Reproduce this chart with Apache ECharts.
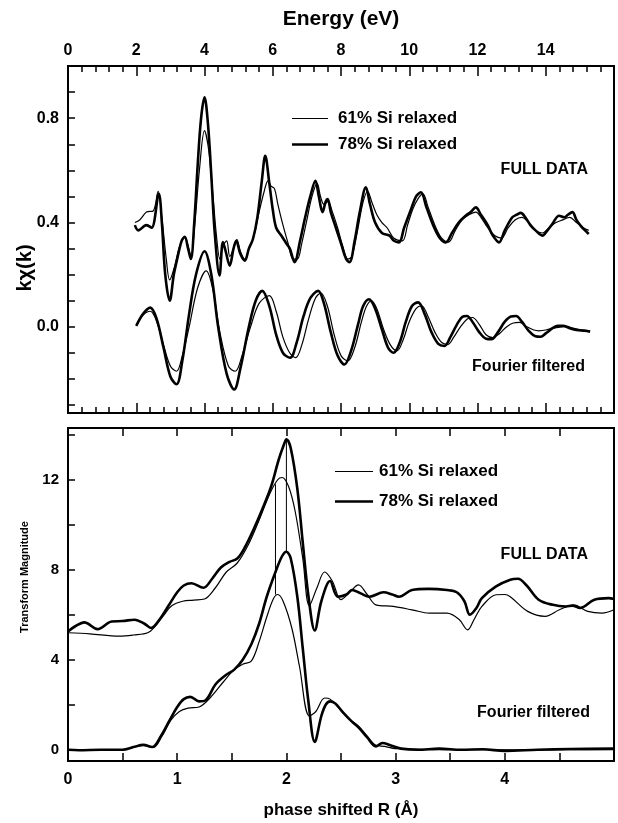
<!DOCTYPE html>
<html>
<head>
<meta charset="utf-8">
<script src="https://cdn.jsdelivr.net/npm/echarts@6/dist/echarts.min.js"></script>
<style>
html,body{margin:0;padding:0;background:#fff;}
#chart{width:618px;height:823px;}
</style>
</head>
<body>
<div id="chart"></div>
<script>
// ---------- DATA ----------
var seriesNames = ['61% Si relaxed', '78% Si relaxed'];

// Top panel: k-space data  [energy, kchi]
var full61 = [[1.96,0.40],[2.1,0.41],[2.3,0.44],[2.5,0.445],[2.64,0.52],[2.75,0.42],[2.88,0.26],[2.98,0.18],[3.13,0.235],[3.25,0.30],[3.42,0.345],[3.52,0.31],[3.6,0.27],[3.72,0.40],[3.85,0.60],[4.0,0.752],[4.12,0.68],[4.25,0.50],[4.35,0.35],[4.45,0.26],[4.54,0.31],[4.65,0.33],[4.74,0.27],[4.85,0.30],[4.95,0.335],[5.05,0.29],[5.18,0.26],[5.3,0.30],[5.45,0.35],[5.6,0.44],[5.75,0.52],[5.86,0.56],[5.95,0.54],[6.05,0.53],[6.15,0.47],[6.3,0.39],[6.45,0.32],[6.6,0.26],[6.72,0.26],[6.85,0.32],[7.0,0.41],[7.15,0.50],[7.3,0.55],[7.4,0.50],[7.5,0.47],[7.62,0.48],[7.75,0.44],[7.9,0.38],[8.05,0.31],[8.2,0.26],[8.32,0.27],[8.5,0.38],[8.65,0.48],[8.78,0.52],[8.9,0.48],[9.05,0.43],[9.2,0.40],[9.35,0.38],[9.55,0.34],[9.8,0.33],[9.95,0.39],[10.1,0.45],[10.25,0.49],[10.4,0.51],[10.55,0.46],[10.75,0.39],[10.95,0.34],[11.15,0.325],[11.35,0.37],[11.55,0.41],[11.75,0.43],[11.95,0.44],[12.1,0.42],[12.3,0.38],[12.5,0.35],[12.7,0.34],[12.9,0.38],[13.1,0.41],[13.3,0.42],[13.5,0.40],[13.7,0.37],[13.9,0.36],[14.1,0.38],[14.3,0.40],[14.5,0.41],[14.7,0.42],[14.9,0.40],[15.1,0.38],[15.26,0.37]];
var full78 = [[1.96,0.39],[2.06,0.37],[2.3,0.39],[2.45,0.38],[2.66,0.51],[2.75,0.40],[2.85,0.20],[2.98,0.10],[3.1,0.20],[3.2,0.26],[3.33,0.33],[3.42,0.345],[3.52,0.30],[3.6,0.26],[3.7,0.40],[3.8,0.62],[3.9,0.80],[4.0,0.88],[4.1,0.78],[4.2,0.58],[4.3,0.36],[4.44,0.197],[4.54,0.325],[4.62,0.29],[4.74,0.235],[4.85,0.30],[4.93,0.33],[5.05,0.28],[5.18,0.254],[5.3,0.30],[5.42,0.337],[5.55,0.42],[5.68,0.56],[5.78,0.656],[5.9,0.55],[6.0,0.45],[6.1,0.38],[6.25,0.35],[6.4,0.32],[6.5,0.30],[6.64,0.248],[6.8,0.33],[6.95,0.42],[7.1,0.50],[7.25,0.56],[7.35,0.50],[7.46,0.44],[7.55,0.48],[7.61,0.49],[7.7,0.44],[7.85,0.38],[8.0,0.32],[8.15,0.26],[8.25,0.248],[8.4,0.33],[8.55,0.44],[8.73,0.535],[8.85,0.47],[9.0,0.40],[9.2,0.36],[9.42,0.35],[9.55,0.33],[9.7,0.324],[9.85,0.38],[10.05,0.45],[10.2,0.50],[10.34,0.516],[10.5,0.46],[10.7,0.39],[10.9,0.34],[11.07,0.324],[11.25,0.36],[11.45,0.40],[11.66,0.427],[11.8,0.44],[11.95,0.458],[12.1,0.43],[12.3,0.39],[12.45,0.35],[12.63,0.324],[12.8,0.37],[13.02,0.42],[13.15,0.43],[13.27,0.437],[13.4,0.42],[13.55,0.39],[13.7,0.37],[13.9,0.35],[14.05,0.37],[14.19,0.394],[14.39,0.426],[14.55,0.42],[14.65,0.43],[14.78,0.44],[14.9,0.41],[15.02,0.388],[15.15,0.37],[15.26,0.356]];
var filt61 = [[2.0,0.004],[2.2,0.045],[2.41,0.06],[2.6,0.02],[2.8,-0.07],[3.0,-0.15],[3.18,-0.17],[3.35,-0.11],[3.55,0.0],[3.8,0.15],[4.05,0.215],[4.25,0.14],[4.45,-0.02],[4.7,-0.15],[4.9,-0.17],[5.1,-0.11],[5.35,0.0],[5.6,0.09],[5.9,0.12],[6.1,0.06],[6.3,-0.04],[6.5,-0.10],[6.67,-0.118],[6.85,-0.07],[7.05,0.03],[7.25,0.11],[7.41,0.13],[7.6,0.08],[7.8,-0.03],[8.0,-0.11],[8.2,-0.13],[8.4,-0.08],[8.6,0.02],[8.75,0.08],[8.89,0.10],[9.05,0.07],[9.25,-0.01],[9.45,-0.07],[9.64,-0.092],[9.82,-0.05],[10.0,0.02],[10.2,0.07],[10.36,0.081],[10.55,0.04],[10.75,-0.02],[10.95,-0.06],[11.13,-0.067],[11.3,-0.04],[11.5,0.0],[11.7,0.03],[11.85,0.036],[12.05,0.01],[12.25,-0.03],[12.45,-0.041],[12.65,-0.025],[12.85,0.0],[13.05,0.015],[13.23,0.017],[13.45,0.0],[13.65,-0.012],[13.8,-0.015],[14.0,-0.012],[14.2,-0.005],[14.45,0.0],[14.6,0.003],[14.8,-0.005],[15.0,-0.01],[15.3,-0.015]];
var filt78 = [[2.0,0.004],[2.2,0.05],[2.41,0.074],[2.6,0.03],[2.8,-0.08],[3.0,-0.19],[3.18,-0.22],[3.35,-0.13],[3.55,0.05],[3.75,0.20],[4.0,0.29],[4.2,0.20],[4.4,0.0],[4.65,-0.18],[4.87,-0.24],[5.05,-0.16],[5.3,0.0],[5.5,0.10],[5.69,0.138],[5.9,0.08],[6.1,-0.03],[6.3,-0.10],[6.51,-0.118],[6.7,-0.06],[6.9,0.04],[7.1,0.11],[7.33,0.138],[7.5,0.09],[7.7,-0.02],[7.9,-0.11],[8.1,-0.144],[8.3,-0.09],[8.5,0.01],[8.65,0.08],[8.82,0.106],[9.0,0.07],[9.2,-0.01],[9.38,-0.08],[9.54,-0.099],[9.72,-0.06],[9.9,0.02],[10.08,0.08],[10.26,0.094],[10.45,0.05],[10.65,-0.02],[10.85,-0.065],[11.03,-0.073],[11.2,-0.04],[11.4,0.01],[11.55,0.038],[11.69,0.042],[11.85,0.02],[12.05,-0.02],[12.25,-0.045],[12.41,-0.047],[12.6,-0.02],[12.8,0.02],[12.98,0.04],[13.13,0.042],[13.3,0.02],[13.5,-0.015],[13.7,-0.036],[13.85,-0.038],[14.0,-0.025],[14.2,-0.005],[14.35,0.004],[14.5,0.004],[14.7,-0.005],[14.9,-0.012],[15.13,-0.015],[15.3,-0.018]];

// Bottom panel: R-space transform magnitude  [R, magnitude]
var ftFull61 = [[0,5.2],[0.2,5.15],[0.47,5.05],[0.6,5.1],[0.73,5.2],[0.8,5.5],[0.88,6.0],[0.95,6.4],[1.05,6.6],[1.15,6.65],[1.25,6.7],[1.35,7.2],[1.45,7.9],[1.55,8.3],[1.65,9.1],[1.75,10.2],[1.85,11.4],[1.92,12.0],[1.96,12.1],[2.02,11.7],[2.08,10.6],[2.15,8.5],[2.21,6.4],[2.28,7.2],[2.35,7.9],[2.42,7.5],[2.5,6.67],[2.58,7.0],[2.66,7.33],[2.74,6.9],[2.82,6.44],[2.98,6.37],[3.15,6.22],[3.31,6.07],[3.47,6.07],[3.58,5.8],[3.66,5.33],[3.72,5.8],[3.79,6.37],[3.92,6.89],[4.0,6.9],[4.05,6.8],[4.21,6.15],[4.37,5.93],[4.5,6.22],[4.63,6.44],[4.76,6.15],[4.89,6.07],[5.0,6.22]];
var ftFull78 = [[0,5.26],[0.07,5.5],[0.15,5.66],[0.27,5.36],[0.4,5.7],[0.5,5.72],[0.61,5.78],[0.7,5.6],[0.76,5.41],[0.84,5.8],[0.92,6.4],[1.0,7.0],[1.06,7.3],[1.13,7.4],[1.24,7.2],[1.32,7.6],[1.4,8.1],[1.48,8.35],[1.55,8.5],[1.62,9.0],[1.7,9.8],[1.78,10.7],[1.86,11.7],[1.93,12.9],[1.98,13.6],[2.0,13.8],[2.04,13.4],[2.1,11.6],[2.15,9.2],[2.2,6.9],[2.26,5.3],[2.32,6.6],[2.4,7.5],[2.47,6.8],[2.55,6.9],[2.6,7.1],[2.68,6.95],[2.76,6.8],[2.89,7.0],[2.97,6.9],[3.03,6.8],[3.15,7.1],[3.3,7.15],[3.47,7.1],[3.56,7.0],[3.63,6.6],[3.68,6.0],[3.74,6.3],[3.79,6.74],[3.92,7.26],[4.05,7.56],[4.12,7.6],[4.2,7.3],[4.31,6.67],[4.44,6.44],[4.56,6.37],[4.62,6.4],[4.69,6.3],[4.82,6.67],[4.95,6.74],[5.0,6.7]];
var ftFilt61 = [[0,0.0],[0.5,0.0],[0.6,0.1],[0.69,0.18],[0.78,0.1],[0.86,0.6],[0.94,1.3],[1.02,1.7],[1.1,1.85],[1.2,1.9],[1.3,2.3],[1.42,3.0],[1.52,3.55],[1.6,3.8],[1.68,3.95],[1.75,4.8],[1.82,5.9],[1.88,6.7],[1.92,6.9],[1.97,6.6],[2.05,5.4],[2.12,3.7],[2.21,1.5],[2.27,1.7],[2.35,2.3],[2.4,2.25],[2.48,1.85],[2.58,1.35],[2.66,1.05],[2.74,0.6],[2.82,0.2],[2.9,0.15],[3.0,0.05],[3.5,0.0],[5.0,0.0]];
var ftFilt78 = [[0,0.0],[0.1,-0.02],[0.3,0.0],[0.5,0.0],[0.6,0.12],[0.69,0.22],[0.77,0.12],[0.85,0.6],[0.93,1.3],[1.0,1.9],[1.06,2.25],[1.12,2.35],[1.2,2.15],[1.26,2.2],[1.35,2.9],[1.44,3.3],[1.52,3.55],[1.6,4.0],[1.68,4.7],[1.75,5.6],[1.82,6.8],[1.9,7.9],[1.96,8.6],[2.0,8.8],[2.04,8.5],[2.1,6.8],[2.15,4.5],[2.2,2.2],[2.26,0.35],[2.32,1.5],[2.36,2.0],[2.4,2.15],[2.45,2.05],[2.52,1.65],[2.6,1.25],[2.66,1.0],[2.74,0.55],[2.82,0.15],[2.88,0.3],[2.95,0.2],[3.05,0.05],[3.2,0.0],[3.4,0.05],[3.6,0.0],[3.8,0.02],[4.0,-0.05],[4.3,0.0],[4.6,0.03],[5.0,0.05]];

// vertical peak markers in R-space: [R, from, to]
var peakMarkers = [[1.9, 6.9, 11.8], [2.0, 8.8, 13.8]];

// tick values
var topYTicks = [-0.3,-0.2,-0.1,0,0.1,0.2,0.3,0.4,0.5,0.6,0.7,0.8,0.9];
var topYLabels = [0, 0.4, 0.8];
var botXTicks = [0,0.5,1,1.5,2,2.5,3,3.5,4,4.5,5];
var botXLabels = [0,1,2,3,4];
var botYTicks = [0,2,4,6,8,10,12,14];
var botYLabels = [0,4,8,12];

// ---------- CHART ----------
var FONT = '"Liberation Sans", Arial, Helvetica, sans-serif';
var chart = echarts.init(document.getElementById('chart'), null, {renderer:'canvas'});
var axisLineStyle = {show:true, onZero:false, lineStyle:{color:'#000', width:2}};
var lblStyle = {color:'#000', fontWeight:'bold', fontFamily:FONT};
var THIN = 1.2, THICK = 2.6;

function lineSeries(name, data, thick, xi, yi) {
  return {
    name: name, type:'line', data:data, xAxisIndex:xi, yAxisIndex:yi,
    symbol:'none', showSymbol:false, smooth:0.35, animation:false,
    lineStyle:{color:'#000', width: thick ? THICK : THIN},
    itemStyle:{color:'#000'}
  };
}

var series = [
  lineSeries(seriesNames[0], full61, false, 0, 0),
  lineSeries(seriesNames[1], full78, true, 0, 0),
  lineSeries(seriesNames[0], filt61, false, 0, 0),
  lineSeries(seriesNames[1], filt78, true, 0, 0),
  lineSeries(seriesNames[0], ftFull61, false, 2, 1),
  lineSeries(seriesNames[1], ftFull78, true, 2, 1),
  lineSeries(seriesNames[0], ftFilt61, false, 2, 1),
  lineSeries(seriesNames[1], ftFilt78, true, 2, 1)
];
peakMarkers.forEach(function(m){
  series.push({
    type:'line', xAxisIndex:2, yAxisIndex:1, symbol:'none', animation:false, smooth:false,
    data:[[m[0], m[1]], [m[0], m[2]]],
    lineStyle:{color:'#000', width:1}, silent:true
  });
});

function legendData(w) {
  return [
    {name:seriesNames[0], icon:'path://M0,0H' + w + 'V' + THIN + 'H0Z', itemStyle:{color:'#000', borderWidth:0}},
    {name:seriesNames[1], icon:'path://M0,0H' + w + 'V' + THICK + 'H0Z', itemStyle:{color:'#000', borderWidth:0}}
  ];
}

var option = {
  backgroundColor:'#fff',
  animation:false,
  grid:[
    {left:68, right:4, top:66, height:347, show:true, borderColor:'#000', borderWidth:2, backgroundColor:'transparent'},
    {left:68, right:4, top:428, height:333, show:true, borderColor:'#000', borderWidth:2, backgroundColor:'transparent'}
  ],
  xAxis:[
    {gridIndex:0, type:'value', position:'top', min:0, max:16, interval:2,
     name:'Energy (eV)', nameLocation:'middle', nameGap:36,
     nameTextStyle:{color:'#000', fontWeight:'bold', fontFamily:FONT, fontSize:21},
     axisLine:axisLineStyle,
     axisTick:{show:true, inside:true, length:10, lineStyle:{color:'#000', width:1.5}},
     minorTick:{show:true, splitNumber:5, length:6, lineStyle:{color:'#000', width:1.5}},
     axisLabel:Object.assign({fontSize:16, margin:7, showMaxLabel:false}, lblStyle),
     splitLine:{show:false}, minorSplitLine:{show:false}},
    {gridIndex:0, type:'value', position:'bottom', min:0, max:16, interval:2,
     axisLine:axisLineStyle,
     axisTick:{show:true, inside:true, length:10, lineStyle:{color:'#000', width:1.5}},
     minorTick:{show:true, splitNumber:5, length:6, lineStyle:{color:'#000', width:1.5}},
     axisLabel:{show:false}, splitLine:{show:false}},
    {gridIndex:1, type:'value', position:'bottom', min:0, max:5,
     name:'phase shifted R (Å)', nameLocation:'middle', nameGap:41,
     nameTextStyle:{color:'#000', fontWeight:'bold', fontFamily:FONT, fontSize:17},
     axisLine:axisLineStyle,
     axisTick:{show:true, inside:true, length:8, customValues:botXTicks, lineStyle:{color:'#000', width:1.5}},
     axisLabel:Object.assign({fontSize:16, margin:11, customValues:botXLabels}, lblStyle),
     splitLine:{show:false}},
    {gridIndex:1, type:'value', position:'top', min:0, max:5,
     axisLine:axisLineStyle,
     axisTick:{show:true, inside:true, length:8, customValues:botXTicks, lineStyle:{color:'#000', width:1.5}},
     axisLabel:{show:false}, splitLine:{show:false}}
  ],
  yAxis:[
    {gridIndex:0, type:'value', min:-0.33, max:1.0,
     axisLine:axisLineStyle,
     axisTick:{show:true, inside:true, length:7, customValues:topYTicks, lineStyle:{color:'#000', width:1.5}},
     axisLabel:Object.assign({fontSize:16, margin:9, customValues:topYLabels,
       formatter:function(v){return v.toFixed(1);}}, lblStyle),
     splitLine:{show:false}},
    {gridIndex:1, type:'value', min:-0.5, max:14.3,
     axisLine:axisLineStyle,
     axisTick:{show:true, inside:true, length:7, customValues:botYTicks, lineStyle:{color:'#000', width:1.5}},
     axisLabel:Object.assign({fontSize:15, margin:9, customValues:botYLabels}, lblStyle),
     splitLine:{show:false}}
  ],
  legend:[
    {data:legendData(36), orient:'vertical', left:287, top:105, itemWidth:36, itemHeight:14, itemGap:9,
     selectedMode:false, symbolKeepAspect:true,
     textStyle:{color:'#000', fontWeight:'bold', fontFamily:FONT, fontSize:17, padding:[0,0,0,5]}},
    {data:legendData(38), orient:'vertical', left:330, top:458, itemWidth:38, itemHeight:14, itemGap:13,
     selectedMode:false, symbolKeepAspect:true,
     textStyle:{color:'#000', fontWeight:'bold', fontFamily:FONT, fontSize:17, padding:[0,0,0,1]}}
  ],
  graphic:[
    {type:'text', x:588, y:170, style:{text:'FULL DATA', align:'right', verticalAlign:'middle', fill:'#000', font:'bold 16px ' + FONT}},
    {type:'text', x:585, y:367, style:{text:'Fourier filtered', align:'right', verticalAlign:'middle', fill:'#000', font:'bold 16px ' + FONT}},
    {type:'text', x:588, y:555, style:{text:'FULL DATA', align:'right', verticalAlign:'middle', fill:'#000', font:'bold 16px ' + FONT}},
    {type:'text', x:590, y:713, style:{text:'Fourier filtered', align:'right', verticalAlign:'middle', fill:'#000', font:'bold 16px ' + FONT}},
    {type:'text', x:25, y:268, rotation:Math.PI/2, style:{text:'kχ(k)', align:'center', verticalAlign:'middle', fill:'#000', font:'bold 20px ' + FONT}},
    {type:'text', x:25, y:577, rotation:Math.PI/2, style:{text:'Transform Magnitude', align:'center', verticalAlign:'middle', fill:'#000', font:'bold 11px ' + FONT}}
  ],
  series:series
};
chart.setOption(option);
</script>
</body>
</html>
